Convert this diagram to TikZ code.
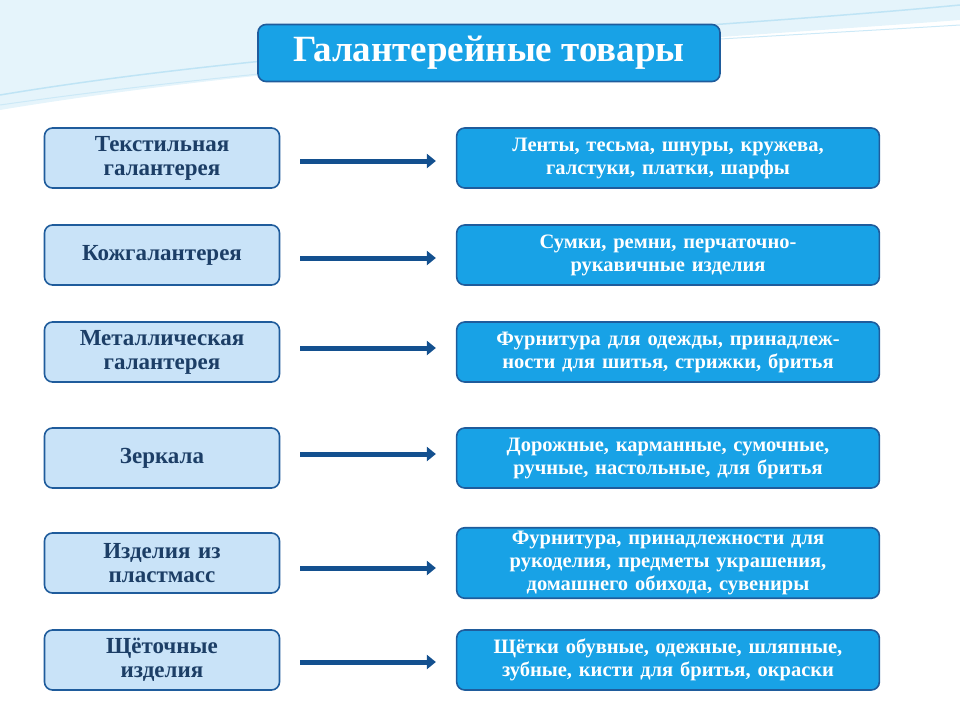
\documentclass[tikz,border=0pt]{standalone}
\usepackage{fontspec}
\setmainfont{Liberation Serif}
\usetikzlibrary{arrows.meta,shadows}
\definecolor{leftfill}{HTML}{C9E3F8}
\definecolor{rightfill}{HTML}{18A2E6}
\definecolor{frame}{HTML}{1F5C9C}
\definecolor{arrowblue}{HTML}{13508F}
\definecolor{textblue}{HTML}{1C3E66}
\definecolor{wave}{HTML}{BFE4F5}
\tikzset{
  kind/.style={draw=frame,line width=1.6pt,rounded corners=8pt,fill=leftfill,
    minimum width=235pt,minimum height=60pt,text width=225pt,align=center,
    font=\fontsize{23}{24}\selectfont\bfseries,text=textblue},
  goods/.style={draw=frame,line width=1.6pt,rounded corners=8pt,fill=rightfill,
    minimum width=420pt,minimum height=60pt,text width=416pt,align=center,
    font=\fontsize{20.5}{23}\selectfont\bfseries,text=white},
  link/.style={-{Triangle[length=9pt,width=14pt]},line width=5pt,color=arrowblue,
    shorten <=20pt,shorten >=20pt}
}
\begin{document}
\begin{tikzpicture}[x=1pt,y=-1pt]
\useasboundingbox (0,0) rectangle (960,720);
% background waves
\fill[wave!40] (0,0) -- (960,0) -- (960,20) .. controls (700,40) and (300,60) .. (0,110) -- cycle;
\draw[wave,line width=1.5pt] (0,95) .. controls (300,45) and (700,30) .. (960,5);
\draw[wave!80!white,line width=1pt] (0,105) .. controls (350,55) and (720,40) .. (960,25);
% title
\node[draw=frame,line width=1.6pt,rounded corners=8pt,fill=rightfill,minimum width=462pt,
  minimum height=57pt,font=\fontsize{37}{38}\selectfont\bfseries,text=white] (title) at (489,53) {Галантерейные товары};
% rows
\node[kind] (k1) at (162,158) {Текстильная\\галантерея};
\node[kind] (k2) at (162,255) {Кожгалантерея};
\node[kind] (k3) at (162,352) {Металлическая\\галантерея};
\node[kind] (k4) at (162,458) {Зеркала};
\node[kind] (k5) at (162,563) {Изделия из\\пластмасс};
\node[kind] (k6) at (162,660) {Щёточные\\изделия};
\node[goods] (g1) at (668,158) {Ленты, тесьма, шнуры, кружева,\\галстуки, платки, шарфы};
\node[goods] (g2) at (668,255) {Сумки, ремни, перчаточно-\\рукавичные изделия};
\node[goods] (g3) at (668,352) {Фурнитура для одежды, принадлеж-\\ности для шитья, стрижки, бритья};
\node[goods] (g4) at (668,458) {Дорожные, карманные, сумочные,\\ручные, настольные, для бритья};
\node[goods,minimum height=66pt] (g5) at (668,563) {Фурнитура, принадлежности для\\рукоделия, предметы украшения,\\домашнего обихода, сувениры};
\node[goods] (g6) at (668,660) {Щётки обувные, одежные, шляпные,\\зубные, кисти для бритья, окраски};
% arrows
\foreach \i/\dy in {1/-3,2/-3,3/4,4/4,5/-5,6/-2}
  \draw[link] ([yshift=\dy]k\i.east) -- ([yshift=\dy]g\i.west);
\end{tikzpicture}
\end{document}
